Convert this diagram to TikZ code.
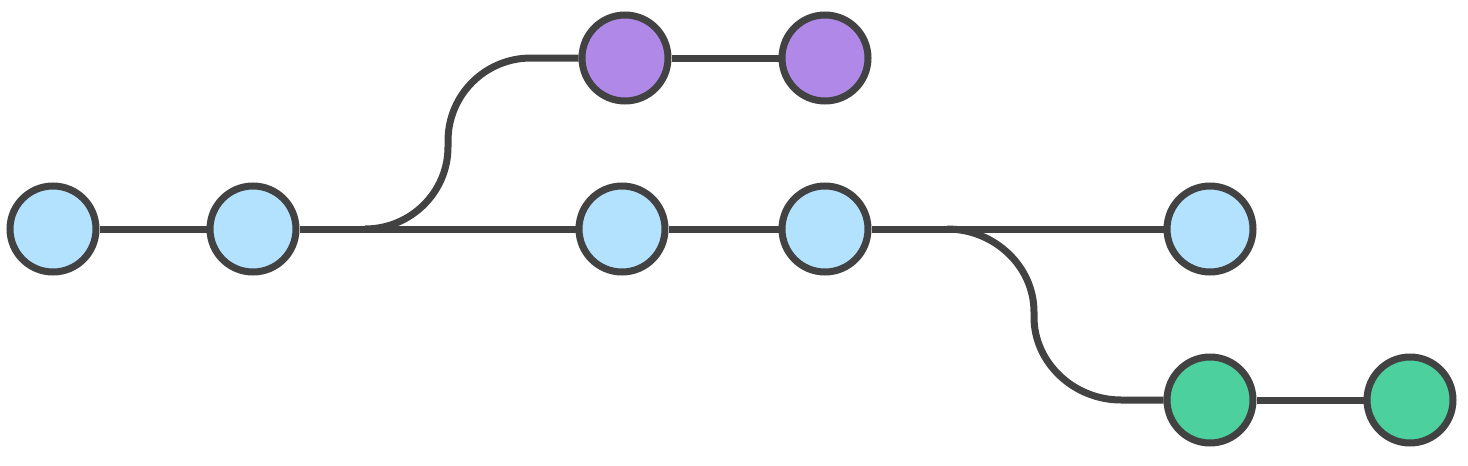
\documentclass[tikz,border=0pt]{standalone}
\begin{document}
\begin{tikzpicture}[x=1pt,y=-1pt]
\definecolor{strk}{RGB}{66,66,66}
\definecolor{cblue}{RGB}{179,226,255}
\definecolor{cpurple}{RGB}{176,137,232}
\definecolor{cgreen}{RGB}{76,208,158}
\tikzset{
  commit/.style={circle,draw=strk,line width=7pt,minimum size=86pt,inner sep=0pt},
  bluec/.style={commit,fill=cblue},
  purplec/.style={commit,fill=cpurple},
  greenc/.style={commit,fill=cgreen},
  link/.style={draw=strk,line width=7pt}
}
\path[use as bounding box] (0,0) rectangle (1468,466);
% nodes
\node[bluec] (a) at (53,229) {};
\node[bluec] (b) at (253,229) {};
\node[bluec] (c) at (622,229) {};
\node[bluec] (d) at (825,229) {};
\node[bluec] (e) at (1210,229) {};
\node[purplec] (p1) at (625,58) {};
\node[purplec] (p2) at (825,58) {};
\node[greenc] (g1) at (1210,400) {};
\node[greenc] (g2) at (1410,400) {};
\coordinate (s1) at (365,229);
\coordinate (s2) at (947,229);
% connectors
\draw[link] (a) -- (b);
\draw[link] (b) -- (c);
\draw[link] (c) -- (d);
\draw[link] (d) -- (e);
\draw[link] (p1) -- (p2);
\draw[link] (g1) -- (g2);
\draw[link] (s1) .. controls (411,229) and (448,192) .. (448,147) -- (448,141)
  .. controls (448,95) and (485,58) .. (531,58) -- (p1.west);
\draw[link] (s2) .. controls (994,229) and (1034,266) .. (1034,312) -- (1034,317)
  .. controls (1034,363) and (1074,400) .. (1121,400) -- (g1.west);
\end{tikzpicture}
\end{document}
